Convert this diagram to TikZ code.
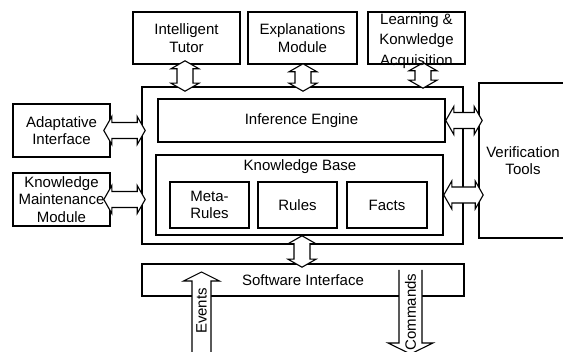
\documentclass[tikz,border=0pt]{standalone}
\usepackage{fontspec}
\setmainfont{Liberation Sans}
\usetikzlibrary{calc}

\tikzset{
  box/.style={draw, line width=1.6pt, inner sep=0pt, align=center,
              font=\fontsize{15}{17.5}\selectfont},
  txt/.style={inner sep=0pt, align=center, font=\fontsize{15}{17.5}\selectfont},
  barrow/.style={draw, fill=white, line width=1.1pt, line join=miter},
  arrowline/.style={line width=1.1pt, line join=miter}
}

% vertical double block arrow: upper anchor, lower anchor, x shift, overshoot up, overshoot down
\newcommand\vbiarrow[5]{%
  \draw[barrow] let \p1=($(#1)+(#3,0)$), \p2=(#2) in
    (\x1,\y1+#4) -- (\x1+14pt,\y1+#4-8pt) -- (\x1+8pt,\y1+#4-8pt)
    -- (\x1+8pt,\y2-#5+8pt) -- (\x1+14pt,\y2-#5+8pt) -- (\x1,\y2-#5)
    -- (\x1-14pt,\y2-#5+8pt) -- (\x1-8pt,\y2-#5+8pt)
    -- (\x1-8pt,\y1+#4-8pt) -- (\x1-14pt,\y1+#4-8pt) -- cycle;}

% horizontal double block arrow: left anchor, right anchor, overshoot left, overshoot right
\newcommand\hbiarrow[4]{%
  \draw[barrow] let \p1=(#1), \p2=(#2) in
    (\x1-#3,\y1) -- (\x1-#3+8pt,\y1+14pt) -- (\x1-#3+8pt,\y1+8pt)
    -- (\x2+#4-8pt,\y1+8pt) -- (\x2+#4-8pt,\y1+14pt) -- (\x2+#4,\y1)
    -- (\x2+#4-8pt,\y1-14pt) -- (\x2+#4-8pt,\y1-8pt)
    -- (\x1-#3+8pt,\y1-8pt) -- (\x1-#3+8pt,\y1-14pt) -- cycle;}

% single block arrow with open tail: tail, tip, shaft half width, head half width,
% head length (positive when the arrow points up, negative when it points down)
\newcommand\openarrow[5]{%
  \fill[white] let \p1=(#1), \p2=(#2), \n1={#5} in
    ({\x1-#3},\y1) -- ({\x1-#3},{\y2-\n1}) -- ({\x1-#4},{\y2-\n1}) -- (\x2,\y2)
    -- ({\x1+#4},{\y2-\n1}) -- ({\x1+#3},{\y2-\n1}) -- ({\x1+#3},\y1) -- cycle;
  \draw[arrowline] let \p1=(#1), \p2=(#2), \n1={#5} in
    ({\x1-#3},\y1) -- ({\x1-#3},{\y2-\n1}) -- ({\x1-#4},{\y2-\n1}) -- (\x2,\y2)
    -- ({\x1+#4},{\y2-\n1}) -- ({\x1+#3},{\y2-\n1}) -- ({\x1+#3},\y1);}

\begin{document}
\begin{tikzpicture}[x=1pt,y=-1pt]
\useasboundingbox (0,0) rectangle (563,352);

% top modules
\node[box, minimum width=107, minimum height=52] (tutor) at (186.5,38) {Intelligent\\Tutor};
\node[box, minimum width=109, minimum height=52] (expl)  at (302.5,38) {Explanations\\Module};
\node[box, minimum width=97,  minimum height=52] (learn) at (416.5,38) {};

% expert system core
\node[box, minimum width=321, minimum height=157] (main)  at (302.5,165.5) {};
\node[box, minimum width=287, minimum height=43]  (infer) at (301.5,120.5) {Inference Engine};
\node[box, minimum width=287, minimum height=80]  (kb)    at (299.5,195) {};
\node[txt] (kbtitle) at (300,167) {Knowledge Base};
\node[box, minimum width=79, minimum height=46] (meta)  at (209.5,205) {Meta-\\Rules};
\node[box, minimum width=79, minimum height=46] (rules) at (297.5,205) {Rules};
\node[box, minimum width=80, minimum height=46] (facts) at (387,205) {Facts};

% side modules
\node[box, minimum width=97, minimum height=53] (adapt) at (61.5,130.5) {Adaptative\\Interface};
\node[box, minimum width=97, minimum height=53] (kmm)   at (61.5,199.5) {};
\node[box, minimum width=88, minimum height=155] (verif) at (523,160.5) {Verification\\Tools};

% software interface
\node[box, minimum width=322, minimum height=32] (soft) at (303,280) {Software Interface};

% double block arrows between modules
\vbiarrow{tutor.south}{main.north}{-1.5}{4pt}{5pt}
\vbiarrow{expl.south}{main.north}{0.5}{1pt}{5pt}
\vbiarrow{learn.south}{main.north}{6.5}{2pt}{2pt}
\vbiarrow{kb.south}{soft.north}{2.5}{0pt}{4pt}
\hbiarrow{adapt.east}{main.west}{7pt}{4pt}
\hbiarrow{kmm.east}{main.west}{7pt}{4pt}
\hbiarrow{infer.east}{verif.west}{0pt}{4pt}
\hbiarrow{kb.east}{verif.west}{0pt}{5pt}

% events in, commands out
\coordinate (evtail) at (201.5,360);
\coordinate (evtip)  at (201.5,272);
\coordinate (cmtail) at (410.5,270);
\coordinate (cmtip)  at (410.5,354);
\openarrow{evtail}{evtip}{9.5pt}{18pt}{9pt}
\openarrow{cmtail}{cmtip}{11.5pt}{22.5pt}{-11pt}
\node[txt, rotate=90] (events)   at (201.5,311) {Events};
\node[txt, rotate=90] (commands) at (410.5,312) {Commands};

% labels set over the arrows
\node[txt, font=\fontsize{15}{20.5}\selectfont, yshift=-3pt] (learntext) at (learn) {Learning \&\\Konwledge\\Acquisition};
\node[txt] (kmmtext) at (kmm) {Knowledge\\Maintenance\\Module};
\end{tikzpicture}
\end{document}
